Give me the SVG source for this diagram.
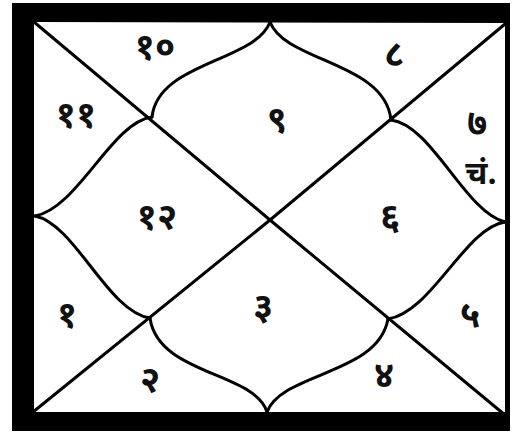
<svg xmlns="http://www.w3.org/2000/svg" width="514" height="435" viewBox="0 0 514 435">
<style>
.ln{fill:none;stroke:#000;stroke-width:3;stroke-linecap:round;stroke-linejoin:round}
.t{font-family:"Noto Sans Devanagari","Lohit Devanagari","Noto Sans","DejaVu Sans",sans-serif;font-size:36px;font-weight:bold;fill:#111;text-anchor:middle;dominant-baseline:central}
</style>
<rect width="514" height="435" fill="#fff"/>
<path d="M12,3 H510 V431 H12 Z M34,22 V412 H505 V23 Z" fill="#000" fill-rule="evenodd"/>
<g id="connectors">
<path class="ln" d="M34,22 L270,220 L505,415"/>
<path class="ln" d="M505,24 L270,220 L33,412"/>
<path class="ln" d="M270,22 C285,62 385,62 391,120"/>
<path class="ln" d="M270,22 C255,62 158,62 152,117"/>
<path class="ln" d="M152,117 C112,122 78,208 35,216"/>
<path class="ln" d="M391,120 C432,125 465,212 505,222"/>
<path class="ln" d="M35,216 C75,224 108,312 150,318"/>
<path class="ln" d="M505,222 C465,228 432,312 388,319"/>
<path class="ln" d="M150,318 C158,375 255,372 267,412"/>
<path class="ln" d="M388,319 C378,375 282,372 267,412"/>
</g>
<g id="h10"><text class="t" x="155" y="50">१०</text></g>
<g id="h11"><text class="t" x="76" y="118">११</text></g>
<g id="h8"><text class="t" x="394" y="57">८</text></g>
<g id="h9"><text class="t" x="277" y="123">९</text></g>
<g id="h7"><text class="t" x="477" y="127">७</text><text class="t" x="481" y="176" style="font-size:32px">चं.</text></g>
<g id="h12"><text class="t" x="157" y="220">१२</text></g>
<g id="h6"><text class="t" x="390" y="220">६</text></g>
<g id="h1"><text class="t" x="67" y="318">१</text></g>
<g id="h3"><text class="t" x="263" y="310">३</text></g>
<g id="h5"><text class="t" x="470" y="318">५</text></g>
<g id="h2"><text class="t" x="150" y="383">२</text></g>
<g id="h4"><text class="t" x="384" y="378">४</text></g>
</svg>
